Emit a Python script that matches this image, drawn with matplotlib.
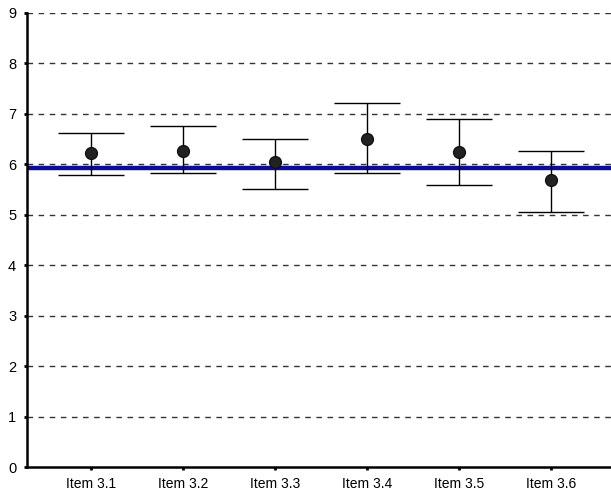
import matplotlib.pyplot as plt
import numpy as np

plt.rcParams['font.family'] = ['Liberation Sans', 'DejaVu Sans']

# data
items = ['Item 3.1', 'Item 3.2', 'Item 3.3', 'Item 3.4', 'Item 3.5', 'Item 3.6']
means = [6.23, 6.27, 6.04, 6.51, 6.25, 5.68]
upper = [6.62, 6.76, 6.51, 7.21, 6.89, 6.27]
lower = [5.78, 5.82, 5.52, 5.82, 5.60, 5.06]
overall = 5.93
yticks = [0, 1, 2, 3, 4, 5, 6, 7, 8, 9]

x = np.arange(len(items))
means = np.array(means)
err = [means - np.array(lower), np.array(upper) - means]

fig = plt.figure(figsize=(6.11, 4.90), dpi=100)
ax = fig.add_axes([0.0447, 0.046, 0.9553, 0.928])

for y in yticks[1:]:
    ax.axhline(y, color='#333333', lw=1.0, ls=(0, (4, 4)), zorder=1)

ax.axhline(overall, color='#0b0b96', lw=3.2, zorder=2)

ax.errorbar(x, means, yerr=err, fmt='o', color='black', ecolor='black',
            elinewidth=1.0, capsize=24, capthick=1.0, markersize=8.5,
            markerfacecolor='#222222', markeredgecolor='#111111', zorder=3)

ax.set_xlim(-0.69, 5.65)
ax.set_ylim(0, 9)
ax.set_yticks(yticks)
ax.set_xticks(x)
ax.set_xticklabels(items, fontsize=10)
ax.tick_params(axis='y', labelsize=10.5, length=2, width=2, pad=6)
ax.tick_params(axis='x', length=2, width=2, pad=5)

for s in ['top', 'right']:
    ax.spines[s].set_visible(False)
for s in ['left', 'bottom']:
    ax.spines[s].set_linewidth(1.8)

fig.savefig('out.png', dpi=100)
